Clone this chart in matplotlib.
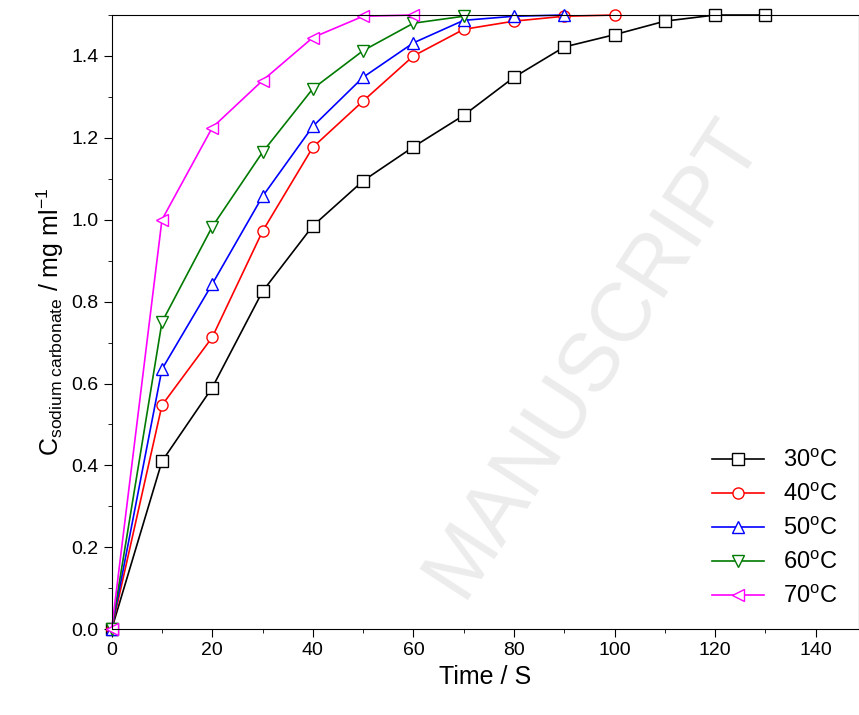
import matplotlib
matplotlib.use("Agg")
import matplotlib.pyplot as plt
from matplotlib.ticker import MultipleLocator

plt.rcParams['font.family'] = ['Liberation Sans', 'DejaVu Sans']
plt.rcParams['mathtext.fontset'] = 'custom'
plt.rcParams['mathtext.rm'] = 'Liberation Sans'
plt.rcParams['mathtext.it'] = 'Liberation Sans:italic'

t30 = [0, 10, 20, 30, 40, 50, 60, 70, 80, 90, 100, 110, 120, 130]
c30 = [0, 0.41, 0.59, 0.825, 0.985, 1.095, 1.178, 1.255, 1.348, 1.422, 1.452, 1.485, 1.5, 1.5]
t40 = [0, 10, 20, 30, 40, 50, 60, 70, 80, 90, 100]
c40 = [0, 0.547, 0.713, 0.972, 1.177, 1.29, 1.4, 1.465, 1.485, 1.497, 1.5]
t50 = [0, 10, 20, 30, 40, 50, 60, 70, 80, 90]
c50 = [0, 0.635, 0.843, 1.057, 1.228, 1.348, 1.432, 1.487, 1.497, 1.5]
t60 = [0, 10, 20, 30, 40, 50, 60, 70]
c60 = [0, 0.75, 0.983, 1.165, 1.32, 1.413, 1.48, 1.497]
t70 = [0, 10, 20, 30, 40, 50, 60]
c70 = [0, 1.0, 1.225, 1.34, 1.445, 1.497, 1.5]

series = [
    (t30, c30, 'black', 's', '30$^{\\rm o}$C'),
    (t40, c40, 'red', 'o', '40$^{\\rm o}$C'),
    (t50, c50, 'blue', '^', '50$^{\\rm o}$C'),
    (t60, c60, '#007a00', 'v', '60$^{\\rm o}$C'),
    (t70, c70, 'magenta', '<', '70$^{\\rm o}$C'),
]

fig = plt.figure(figsize=(8.59, 7.15), dpi=100)
ax = fig.add_axes([0.130, 0.120, 0.870, 0.859])

fig.text(0.69, 0.50, 'MANUSCRIPT', fontsize=60, color='#ececec',
         rotation=57, ha='center', va='center', zorder=0)
ax.patch.set_alpha(0)

for x, y, col, m, lab in series:
    ax.plot(x, y, color=col, marker=m, markersize=8, markerfacecolor='white',
            markeredgecolor=col, lw=1.2, label=lab, clip_on=False)

ax.set_xlim(0, 148.6)
ax.set_ylim(0, 1.5)
ax.xaxis.set_major_locator(MultipleLocator(20))
ax.xaxis.set_minor_locator(MultipleLocator(10))
ax.yaxis.set_major_locator(MultipleLocator(0.2))
ax.yaxis.set_minor_locator(MultipleLocator(0.1))
ax.yaxis.set_major_formatter(plt.FuncFormatter(lambda v, p: f"{v:.1f}"))
ax.tick_params(which='major', length=6, labelsize=14)
ax.tick_params(which='minor', length=3)
ax.set_xlabel('Time / S', fontsize=18)
ax.set_ylabel('C$_{\\rm sodium\\ carbonate}$ / mg ml$^{-1}$', fontsize=18)

ax.legend(loc='lower right', fontsize=17, frameon=False, handlelength=2.2,
          bbox_to_anchor=(1.0, 0.0))

fig.savefig('out.png', dpi=100)
